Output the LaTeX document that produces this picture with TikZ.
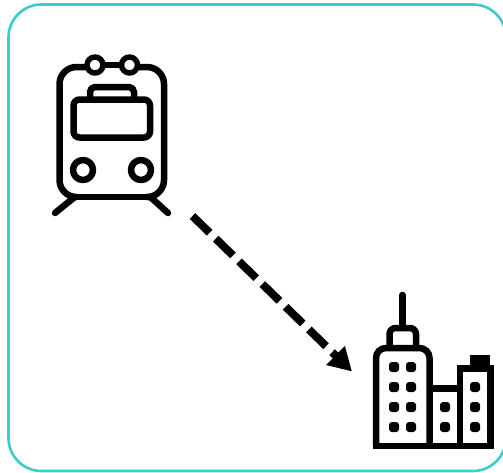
\documentclass[tikz,border=0pt]{standalone}
\usepackage{tikz}
\usetikzlibrary{arrows.meta}
\definecolor{frameTeal}{HTML}{38CDCE}
\tikzset{
  frame/.style = {draw=frameTeal, line width=2.6pt, rounded corners=33pt},
  icon/.style = {draw=black, line width=6.5pt, line cap=round, line join=round},
  iconsharp/.style = {icon, line cap=butt, line join=miter},
  iconfill/.style = {fill=black, rounded corners=3pt},
  trip/.style = {-{Triangle[length=23pt,width=25pt]}, draw=black, line width=8pt,
                 dash pattern=on 24pt off 8.5pt},
}
\begin{document}
\begin{tikzpicture}[x=1pt,y=-1pt]
    \useasboundingbox (0,0) rectangle (503,472);
    \clip (0,0) rectangle (503,472);
    \draw[frame] (8.5,4.5) rectangle (506,471);
    % train
    \draw[icon, rounded corners=17pt] (75,197) -- (59.5,197) -- (59.5,67) -- (86,67);
    \draw[icon, rounded corners=17pt] (150,197) -- (164,197) -- (164,67) -- (138,67);
    \draw[icon] (75,197) -- (150,197);
    \draw[icon] (103,65) -- (121,65);
    \draw[icon, line width=5.5pt] (95,65) circle (8);
    \draw[icon, line width=5.5pt] (129.5,65) circle (8);
    \draw[icon, rounded corners=6pt] (73.5,99.5) rectangle (150,137.5);
    \draw[icon, rounded corners=5pt] (90,99) -- (90,87) -- (134,87) -- (134,99);
    \draw[icon] (83,170) circle (10);
    \draw[icon] (141,170) circle (10);
    \coordinate (trainfoot) at (192.5,216);
    \draw[icon] (73.5,198) -- (55,213);
    \draw[icon] (151.5,198) -- (168,213);
    % city
    \coordinate (citycorner) at (352,371.5);
    \draw[icon] (402.5,295) -- (402.5,326);
    \draw[icon, rounded corners=6pt] (389.5,346) -- (389.5,328) -- (416,328) -- (416,346);
    \draw[iconsharp, rounded corners=10pt] (376,446) -- (376,348) -- (429.5,348) -- (429.5,446);
    \draw[iconsharp] (372.7,446) -- (493.5,446);
    \draw[iconsharp] (429.5,388.5) -- (460,388.5);
    \draw[iconsharp] (460,446) -- (460,368.5) -- (490.5,368.5) -- (490.5,446);
    \fill (470,354.5) rectangle (490,366);
    \foreach \px in {394,411}
      \foreach \py in {367,387,407,427}
        \fill[iconfill] (\px-5,\py-5) rectangle (\px+5,\py+5);
    \foreach \py in {407,427}
      \fill[iconfill] (445-5,\py-5) rectangle (445+5,\py+5);
    \foreach \py in {387,407,427}
      \fill[iconfill] (475-5,\py-5) rectangle (475+5,\py+5);
    % trip
    \draw[trip] (trainfoot) -- (citycorner);
\end{tikzpicture}
\end{document}
